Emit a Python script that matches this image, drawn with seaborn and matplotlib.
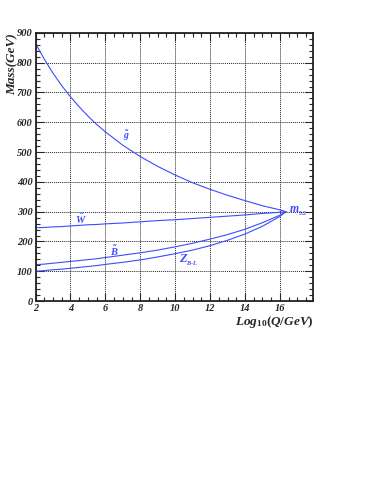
import numpy as np
import pandas as pd
import matplotlib
matplotlib.use("Agg")
import matplotlib.pyplot as plt
from matplotlib.ticker import MultipleLocator
import seaborn as sns

# scale log10(Q/GeV) and masses
log_q = [2, 2.5, 3, 3.5, 4, 4.5, 5, 5.5, 6, 7, 8, 9, 10, 11, 12, 13, 14, 15, 16, 16.35]
gluino = [865, 812, 765, 723, 686, 652, 621, 593, 568, 523, 485, 452, 423, 397, 375, 355, 337, 320, 306, 300]
wino = [246, 247, 249, 250, 252, 254, 256, 257, 259, 262, 266, 270, 273, 277, 281, 285, 289, 294, 298, 300]
bino = [122, 124, 127, 130, 133, 136, 139, 142, 146, 154, 162, 171, 182, 194, 208, 223, 241, 263, 288, 300]
zbl = [100, 102, 105, 107, 110, 113, 116, 119, 123, 130, 138, 148, 159, 171, 186, 204, 225, 251, 284, 300]

n = len(log_q)
df = pd.DataFrame({"logq": log_q * 4,
                   "mass": gluino + wino + bino + zbl,
                   "field": ["g"] * n + ["W"] * n + ["B"] * n + ["Z"] * n})

sns.set_style("ticks")
plt.rcParams["font.family"] = ["Liberation Serif", "DejaVu Serif"]
plt.rcParams["mathtext.fontset"] = "custom"
plt.rcParams["mathtext.it"] = "Liberation Serif:italic:bold"
plt.rcParams["mathtext.rm"] = "Liberation Serif:bold"

blue = "#3a4cff"
fig = plt.figure(figsize=(3.74, 4.84), dpi=100)
ax = fig.add_axes([0.095, 0.378, 0.742, 0.554])

sns.lineplot(data=df, x="logq", y="mass", units="field", estimator=None,
             color=blue, lw=0.8, ax=ax, sort=False)

ax.set_xlim(2, 17.9)
ax.set_ylim(0, 900)
ax.xaxis.set_major_locator(MultipleLocator(2))
ax.xaxis.set_minor_locator(MultipleLocator(0.5))
ax.yaxis.set_major_locator(MultipleLocator(100))
ax.yaxis.set_minor_locator(MultipleLocator(20))
ax.grid(True, which="major", ls=(0, (1.0, 1.0)), color="#222222", lw=0.7)
ax.tick_params(which="both", direction="in", top=True, right=True, labelsize=7.5, pad=2)
ax.tick_params(which="major", length=6, width=0.8)
ax.tick_params(which="minor", length=3, width=0.8)
for lab in ax.get_xticklabels() + ax.get_yticklabels():
    lab.set_fontweight("bold")
    lab.set_fontstyle("italic")
for s in ax.spines.values():
    s.set_linewidth(1.3)
    s.set_color("#222222")

ax.set_xlabel("")
ax.set_ylabel("")
fig.text(0.032, 0.932, "Mass(GeV)", rotation=90, ha="center", va="top",
         fontsize=9.5, fontweight="bold", fontstyle="italic")
fig.text(0.838, 0.329, r"$Log_{10}(Q/GeV)$", ha="right", va="baseline", fontsize=9.5)

lbl = dict(color=blue, ha="center", va="center")
ax.text(7.2, 555, r"$\tilde{g}$", fontsize=7, **lbl)
ax.text(4.6, 275, r"$\tilde{W}$", fontsize=7.5, **lbl)
ax.text(6.5, 168, r"$\tilde{B}$", fontsize=7.5, **lbl)
ax.text(10.8, 135, r"$Z_{_{B\text{-}L}}$", fontsize=9, **lbl)
ax.text(16.55, 300, r"$m_{_{3/2}}$", color=blue, fontsize=8.5, ha="left", va="center")

fig.savefig("out.png", dpi=100)
